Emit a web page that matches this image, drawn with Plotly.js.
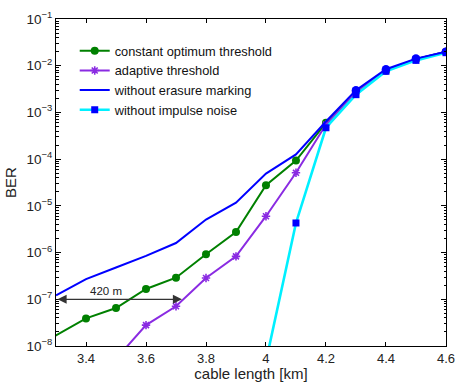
<!DOCTYPE html>
<html><head><meta charset="utf-8">
<script src="https://cdn.plot.ly/plotly-3.0.1.min.js"></script>
<style>html,body{margin:0;padding:0;background:#fff}#c{width:455px;height:382px}</style>
</head><body><div id="c"></div>
<script>
// cable length [km]
const xConst = [3.2, 3.4, 3.5, 3.6, 3.7, 3.8, 3.9, 4.0, 4.1, 4.2, 4.3, 4.4, 4.5, 4.6];
const berConst = [7.3e-9, 3.9e-8, 6.5e-8, 1.66e-7, 2.9e-7, 9.2e-7, 2.75e-6, 2.76e-5, 9.3e-5, 6.0e-4, 2.8e-3, 7.8e-3, 1.38e-2, 2.0e-2];

const xAdapt = [3.5, 3.6, 3.7, 3.8, 3.9, 4.0, 4.1, 4.2, 4.3, 4.4, 4.5, 4.6];
const berAdapt = [5.3e-9, 2.8e-8, 7.1e-8, 2.86e-7, 8.3e-7, 6.0e-6, 5.1e-5, 5.5e-4, 2.7e-3, 7.8e-3, 1.38e-2, 2.0e-2];

const xNoErase = [3.3, 3.4, 3.5, 3.6, 3.7, 3.8, 3.9, 4.0, 4.1, 4.2, 4.3, 4.4, 4.5, 4.6];
const berNoErase = [1.22e-7, 2.7e-7, 4.8e-7, 8.5e-7, 1.6e-6, 5.1e-6, 1.17e-5, 4.9e-5, 1.26e-4, 6.4e-4, 3.0e-3, 8.4e-3, 1.42e-2, 2.0e-2];
const xNoEraseMarks = [4.3, 4.4, 4.5, 4.6];
const berNoEraseMarks = [3.0e-3, 8.4e-3, 1.42e-2, 2.0e-2];

const xNoImp = [4.0, 4.1, 4.2, 4.3, 4.4, 4.5, 4.6];
const berNoImp = [4.7e-9, 4.3e-6, 4.7e-4, 2.4e-3, 7.6e-3, 1.3e-2, 1.9e-2];

const names = ['constant optimum threshold', 'adaptive threshold', 'without erasure marking', 'without impulse noise'];
const xTicks = [3.4, 3.6, 3.8, 4.0, 4.2, 4.4, 4.6];
const xTickText = ['3.4', '3.6', '3.8', '4', '4.2', '4.4', '4.6'];
const yExp = [-8, -7, -6, -5, -4, -3, -2, -1];
const minorDigits = [2, 3, 4, 5, 6, 7, 8, 9];
const arrowFrom = 3.3, arrowTo = 3.72, arrowBer = 1e-7;
const arrowLabel = '420 m';

const FONT = 'Liberation Sans, Arial, Helvetica, sans-serif';

const minorVals = [];
yExp.slice(0, -1).forEach(e => minorDigits.forEach(d => minorVals.push(d * Math.pow(10, e))));

const traces = [
  {x: xConst, y: berConst, name: names[0], mode: 'lines+markers', legendrank: 1,
   line: {color: '#008000', width: 2}, marker: {symbol: 'circle', size: 8, color: '#008000'}},
  {x: xAdapt, y: berAdapt, name: names[1], mode: 'lines+markers', legendrank: 2,
   line: {color: '#8a2be2', width: 2}, marker: {symbol: 'asterisk-open', size: 7, color: '#8a2be2', line: {color: '#8a2be2', width: 1.6}}},
  {x: xNoImp, y: berNoImp, name: names[3], mode: 'lines+markers', legendrank: 4,
   line: {color: '#00f0ff', width: 2.6}, marker: {symbol: 'square', size: 7, color: '#0000ff'}},
  {x: xNoErase, y: berNoErase, name: names[2], mode: 'lines', legendrank: 3,
   line: {color: '#0000ff', width: 2}},
  {x: xNoEraseMarks, y: berNoEraseMarks, mode: 'markers', showlegend: false, hoverinfo: 'skip',
   marker: {symbol: 'circle', size: 8.5, color: '#0000ff'}}
];

const layout = {
  width: 455, height: 382,
  margin: {l: 56, r: 9, t: 19, b: 36},
  paper_bgcolor: '#fff', plot_bgcolor: '#fff',
  font: {family: FONT, size: 12, color: '#222'},
  showlegend: true,
  legend: {x: 0.048, y: 0.948, xanchor: 'left', yanchor: 'top', bgcolor: 'rgba(255,255,255,0)',
           borderwidth: 0, font: {family: FONT, size: 12.8, color: '#111'}, traceorder: 'normal', tracegroupgap: 0},
  xaxis: {
    range: [3.2999, 4.6002], tickvals: xTicks, ticktext: xTickText,
    ticks: 'inside', ticklen: 4, tickcolor: '#000', mirror: 'ticks',
    showline: true, linecolor: '#000', linewidth: 1, showgrid: false, zeroline: false,
    tickfont: {family: FONT, size: 13, color: '#222'},
    title: {text: 'cable length [km]', font: {family: FONT, size: 15, color: '#222'}, standoff: 2}
  },
  yaxis: {
    type: 'log', range: [-8, -1],
    tickvals: yExp.map(e => Math.pow(10, e)),
    ticktext: yExp.map(e => '10<sup>\u2212' + (-e) + '</sup>'),
    ticks: 'inside', ticklen: 5, tickcolor: '#000', mirror: 'ticks',
    minor: {ticks: 'inside', ticklen: 2.5, tickcolor: '#000', tickvals: minorVals, showgrid: false},
    showline: true, linecolor: '#000', linewidth: 1, showgrid: false, zeroline: false,
    tickfont: {family: FONT, size: 13.5, color: '#222'},
    title: {text: 'BER', font: {family: FONT, size: 15, color: '#222'}, standoff: 6}
  },
  annotations: [
    {x: arrowTo, y: Math.log10(arrowBer), ax: arrowFrom, ay: Math.log10(arrowBer), xref: 'x', yref: 'y', axref: 'x', ayref: 'y',
     text: '', showarrow: true, arrowside: 'end+start', arrowhead: 2, arrowsize: 1.4, arrowwidth: 1.3, arrowcolor: '#333'},
    {x: (arrowFrom + arrowTo) / 2 - 0.045, y: Math.log10(arrowBer), xref: 'x', yref: 'y', yshift: 8,
     text: arrowLabel, showarrow: false, font: {family: FONT, size: 11.5, color: '#222'}}
  ]
};

Plotly.newPlot('c', traces, layout, {staticPlot: true, displayModeBar: false});
</script>
</body></html>
